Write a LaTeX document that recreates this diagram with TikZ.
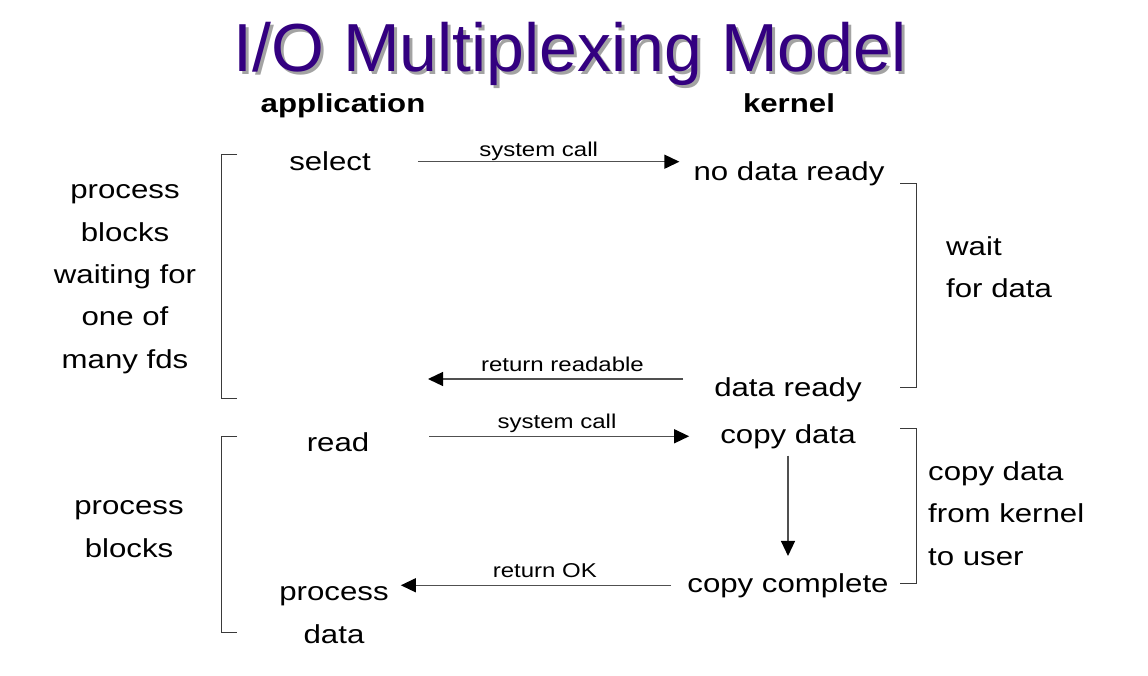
\documentclass[tikz,border=0pt]{standalone}
\usepackage{fontspec}
\setmainfont[FakeStretch=1.2]{Liberation Sans}
\newfontfamily\titlefont{Liberation Sans}
\usepackage{xcolor}
\definecolor{titlepurple}{HTML}{330080}
\definecolor{shadowgray}{HTML}{A3A3A3}
\definecolor{linegray}{HTML}{505050}
\definecolor{bracegray}{HTML}{3A3A3A}
\usetikzlibrary{arrows.meta}
\tikzset{
  >={Triangle[length=15pt,width=14pt,color=black]},
  txt/.style  ={font=\fontsize{26}{42.3}\selectfont,inner sep=0pt,align=center},
  hdr/.style  ={font=\fontsize{26}{30}\selectfont\bfseries,inner sep=0pt},
  lbl/.style  ={font=\fontsize{20}{24}\selectfont,inner sep=0pt,anchor=base,yshift=7.5pt},
  flow/.style ={->,draw=linegray,line width=1.3pt},
  brace/.style={draw=bracegray,line width=1pt},
}
\newcommand{\shadowed}[1]{\rlap{\hspace{3pt}\raisebox{-3pt}{\textcolor{shadowgray}{#1}}}\textcolor{titlepurple}{#1}}

\begin{document}
\begin{tikzpicture}[x=1pt,y=-1pt]
\fill[white] (0,0) rectangle (1148,676);
\useasboundingbox (0,0) rectangle (1148,676);
%======================= TITLE ==================================
\node[font=\titlefont\fontsize{68}{70}\selectfont,anchor=base,inner sep=0pt] (title) at (570,72)
  {\shadowed{I/O Multiplexing Model}};
\node[hdr,anchor=base] (app) at (343,113) {application};
\node[hdr,anchor=base] (kern) at (789,113) {kernel};
%======================= APPLICATION / KERNEL ===================
\node[txt,anchor=base] (select) at (330,171) {select};
\node[txt,anchor=base] (nodata) at (789,181) {no data ready};
\node[txt,anchor=base] (dataready) at (788,396) {data ready};
\node[txt,anchor=base] (read) at (338,451) {read};
\node[txt,anchor=base] (copydata) at (788,443) {copy data};
\node[txt,anchor=base] (copydone) at (788,592) {copy complete};
\node[txt,anchor=base] (procdata) at (334,643) {process\\data};
\coordinate (rdend) at (428,379);
%======================= SIDE NOTES =============================
% multi-line nodes: base = last line
\node[txt,anchor=base] (waitsel) at (125,368) {process\\blocks\\waiting for\\one of\\many fds};
\node[txt,anchor=base] (waitread) at (129,557) {process\\blocks};
\node[txt,anchor=base west,align=left] (waitdata) at (946,298) {wait\\for data};
\node[txt,anchor=base west,align=left] (copyuser) at (928,565) {copy data\\from kernel\\to user};
\foreach \xa/\xb/\ya/\yb in {237/221/155/398,237/221/436/632,900/916/184/387,900/916/428/583}
  \draw[brace] (\xa,\ya) -- (\xb,\ya) -- (\xb,\yb) -- (\xa,\yb);
%======================= CALLS ==================================
\draw[flow,shorten <=47pt,shorten >=14pt] (select.east) -- (select.east -| nodata.west)
  node[lbl,pos=0.52,yshift=-2pt] {system call};
\draw[flow,shorten <=31pt] (dataready.west |- rdend) -- (rdend)
  node[lbl,pos=0.53] {return readable};
\draw[flow,shorten <=60pt,shorten >=31pt] (read.east |- copydata.west) -- (copydata.west)
  node[lbl,pos=0.535] {system call};
\draw[flow,shorten <=7pt,shorten >=17pt] (copydata.south) -- (copydone.north);
\draw[flow,shorten <=16pt,shorten >=12pt] (copydone.west) -- (copydone.west -| procdata.east)
  node[lbl,pos=0.477] {return OK};
\end{tikzpicture}
\end{document}
